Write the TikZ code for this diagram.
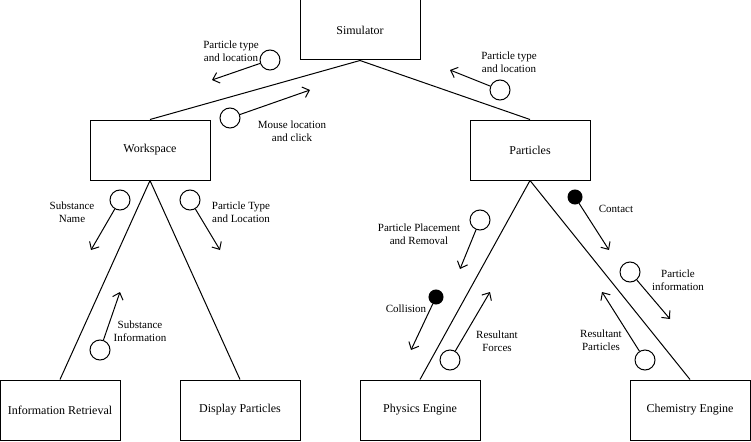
\documentclass[tikz,border=0pt]{standalone}
\usepackage{fontspec}
\setmainfont{Liberation Serif}
\usepackage{tikz}
\usetikzlibrary{arrows,arrows.meta,positioning}
\tikzstyle{module} = [draw,minimum width=120pt,minimum height=60pt,inner sep=0pt,font=\fontsize{12}{14}\selectfont]
\tikzstyle{couple} = [draw,circle,minimum size=20pt,inner sep=0pt]
\tikzstyle{flag} = [draw,fill=black,circle,minimum size=14pt,inner sep=0pt]
\tikzstyle{flow} = [-{Straight Barb[length=6pt,width=11pt]}]
\tikzstyle{lbl} = [align=center,inner sep=0pt,font=\fontsize{11}{13}\selectfont]

\begin{document}
\begin{tikzpicture}[x=1pt,y=-1pt,line width=1pt]
        \useasboundingbox (0,0) rectangle (751,441);
        % modules
        \node[module] (sim) at (360,30) {Simulator};
        \node[module] (work) at (150,150) {Workspace};
        \node[module] (part) at (530,150) {Particles};
        \node[module] (info) at (60,410) {Information Retrieval};
        \node[module] (disp) at (240,410) {Display Particles};
        \node[module] (phys) at (420,410) {Physics Engine};
        \node[module] (chem) at (690,410) {Chemistry Engine};
        \draw (sim.south) -- (work.north);
        \draw (sim.south) -- (part.north);
        \draw (work.south) -- (info.north);
        \draw (work.south) -- (disp.north);
        \draw (part.south) -- (phys.north);
        \draw (part.south) -- (chem.north);
        % data couples
        \node[couple] (c1) at (270,60) {};
        \coordinate (e1) at (212,80);
        \draw[flow] (c1) -- (e1);
        \node[lbl] at (231,51) {Particle type\\and location};
        \node[couple] (c2) at (230,118) {};
        \coordinate (e2) at (310,90);
        \draw[flow] (c2) -- (e2);
        \node[lbl] at (292,131) {Mouse location\\and click};
        \node[couple] (c3) at (500,90) {};
        \coordinate (e3) at (450,70);
        \draw[flow] (c3) -- (e3);
        \node[lbl] at (509,62) {Particle type\\and location};
        \node[couple] (c4) at (120,200) {};
        \coordinate (e4) at (91,250);
        \draw[flow] (c4) -- (e4);
        \node[lbl] at (72,212) {Substance\\Name};
        \node[couple] (c5) at (190,200) {};
        \coordinate (e5) at (220,250);
        \draw[flow] (c5) -- (e5);
        \node[lbl] at (241,212) {Particle Type\\and Location};
        \node[couple] (c6) at (100,350) {};
        \coordinate (e6) at (120,292);
        \draw[flow] (c6) -- (e6);
        \node[lbl] at (140,331) {Substance\\Information};
        \node[couple] (c7) at (480,220) {};
        \coordinate (e7) at (460,269);
        \draw[flow] (c7) -- (e7);
        \node[lbl] at (419,234) {Particle Placement\\and Removal};
        \node[flag] (c8) at (436,297) {};
        \coordinate (e8) at (411,350);
        \draw[flow] (c8) -- (e8);
        \node[lbl] at (406,309) {Collision};
        \node[couple] (c9) at (450,360) {};
        \coordinate (e9) at (490,292);
        \draw[flow] (c9) -- (e9);
        \node[lbl] at (497,341) {Resultant\\Forces};
        \node[flag] (c10) at (575,197) {};
        \coordinate (e10) at (609,250);
        \draw[flow] (c10) -- (e10);
        \node[lbl] at (616,209) {Contact};
        \node[couple] (c11) at (630,272) {};
        \coordinate (e11) at (670,319);
        \draw[flow] (c11) -- (e11);
        \node[lbl] at (678,280) {Particle\\information};
        \node[couple] (c12) at (645,360) {};
        \coordinate (e12) at (602,292);
        \draw[flow] (c12) -- (e12);
        \node[lbl] at (601,340) {Resultant\\Particles};
\end{tikzpicture}
\end{document}
